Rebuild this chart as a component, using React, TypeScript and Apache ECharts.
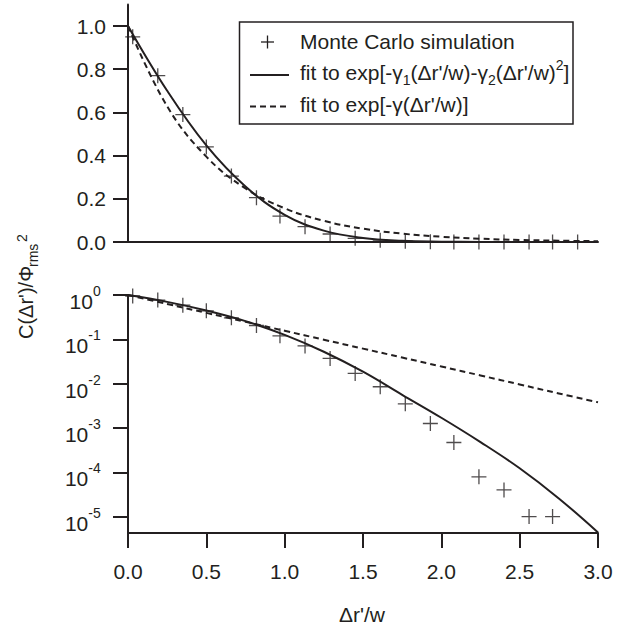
import React, { useEffect, useRef } from "react";
import * as echarts from "echarts";

// Monte Carlo simulation points
const mcX = [0.03, 0.19, 0.35, 0.5, 0.66, 0.82, 0.97, 1.13, 1.29, 1.45, 1.61, 1.77, 1.93, 2.08, 2.24, 2.4, 2.56, 2.71, 2.87];
const mcY = [0.95, 0.77, 0.59, 0.44, 0.305, 0.205, 0.12, 0.071, 0.037, 0.017, 0.0085, 0.0035, 0.00126, 0.00047, 0.000079, 0.00004, 0.00001, 0.00001, 0];

// fit curves
const fitX = [0, 0.25, 0.5, 0.75, 1.0, 1.25, 1.5, 1.75, 2.0, 2.25, 2.5, 2.75, 3.0];
const fitQuad = [1.0, 0.7, 0.447, 0.257, 0.126, 0.0525, 0.0186, 0.0056, 0.0017, 0.00048, 0.000123, 0.0000257, 0.0000044];
const fitExp = [1.0, 0.628, 0.395, 0.248, 0.156, 0.098, 0.0617, 0.0388, 0.0244, 0.0153, 0.0096, 0.006, 0.0038];

// tick labels
const xTicks = [0, 0.5, 1.0, 1.5, 2.0, 2.5, 3.0];
const linTicks = [0, 0.2, 0.4, 0.6, 0.8, 1.0];
const logTicks = [0, -1, -2, -3, -4, -5];

const ink = "#231f20";
const ff = "'Liberation Sans', Arial, Helvetica, sans-serif";
const crossSymbol = "path://M7.5 0 L7.5 15 M0 7.5 L15 7.5";

export default function App() {
  const ref = useRef<HTMLDivElement>(null);
  useEffect(() => {
    if (!ref.current) return;
    const chart = echarts.init(ref.current, null, { renderer: "svg" });

    const pairs = (xs: number[], ys: number[]) => xs.map((x, i) => [x, ys[i]]);
    const logPairs = (xs: number[], ys: number[]) =>
      xs.map((x, i) => [x, ys[i]]).filter((p) => p[1] > 0).map((p) => [p[0], Math.log10(p[1])]);

    const axisLine = { show: true, onZero: false, lineStyle: { color: ink, width: 2 } };
    const tickStyle = { color: ink, width: 2 };
    const vText = (text: string, x: number, y: number, size: number) => ({
      type: "text", x, y, rotation: Math.PI / 2,
      style: { text, fontSize: size, fontFamily: ff, fill: ink, align: "left", verticalAlign: "middle" },
    });

    const option: any = {
      animation: false,
      backgroundColor: "#fff",
      grid: [
        { left: 128, right: 27, top: 4.4, height: 237.6 },
        { left: 128, right: 27, top: 295, height: 238 },
      ],
      xAxis: [
        {
          type: "value", gridIndex: 0, min: 0, max: 3, interval: 0.5,
          axisLine, axisTick: { show: false }, axisLabel: { show: false }, splitLine: { show: false },
        },
        {
          type: "value", gridIndex: 1, min: 0, max: 3, interval: 0.5,
          axisLine,
          axisTick: { show: true, inside: false, length: 15, lineStyle: tickStyle, customValues: xTicks },
          axisLabel: {
            customValues: xTicks, margin: 28, fontSize: 21, color: ink, fontFamily: ff,
            formatter: (v: number) => v.toFixed(1),
          },
          splitLine: { show: false },
        },
      ],
      yAxis: [
        {
          type: "value", gridIndex: 0, min: 0, max: 1.1,
          axisLine,
          axisTick: { show: true, inside: false, length: 15, lineStyle: tickStyle, customValues: linTicks },
          axisLabel: {
            customValues: linTicks, margin: 22, fontSize: 21, color: ink, fontFamily: ff,
            formatter: (v: number) => v.toFixed(1),
          },
          splitLine: { show: false },
        },
        {
          type: "value", gridIndex: 1, min: -5.37, max: 0,
          axisLine,
          axisTick: { show: true, inside: false, length: 15, lineStyle: tickStyle, customValues: logTicks },
          axisLabel: {
            customValues: logTicks, margin: 27, color: ink, fontFamily: ff,
            formatter: (v: number) => `{b|10}{s|${Math.round(v)}}{h| }`,
            rich: {
              b: { fontSize: 21, lineHeight: 20, verticalAlign: "bottom", color: ink, fontFamily: ff },
              s: { fontSize: 14, verticalAlign: "top", padding: [6, 0, 0, 0], color: ink, fontFamily: ff },
              h: { fontSize: 1, lineHeight: 34, verticalAlign: "middle", color: ink, fontFamily: ff },
            },
          },
          splitLine: { show: false },
        },
      ],
      series: [
        {
          type: "line", xAxisIndex: 0, yAxisIndex: 0, data: pairs(fitX, fitQuad), smooth: 0.4,
          symbol: "none", lineStyle: { color: ink, width: 2 },
        },
        {
          type: "line", xAxisIndex: 0, yAxisIndex: 0, data: pairs(fitX, fitExp), smooth: 0.4,
          symbol: "none", lineStyle: { color: ink, width: 2, type: [6, 4] },
        },
        {
          type: "scatter", xAxisIndex: 0, yAxisIndex: 0, data: pairs(mcX, mcY),
          symbol: crossSymbol, symbolSize: 15,
          itemStyle: { color: "none", borderColor: ink, borderWidth: 1.3 },
        },
        {
          type: "line", xAxisIndex: 1, yAxisIndex: 1, data: logPairs(fitX, fitQuad), smooth: 0.4,
          symbol: "none", lineStyle: { color: ink, width: 2 },
        },
        {
          type: "line", xAxisIndex: 1, yAxisIndex: 1, data: logPairs(fitX, fitExp), smooth: 0.4,
          symbol: "none", lineStyle: { color: ink, width: 2, type: [6, 4] },
        },
        {
          type: "scatter", xAxisIndex: 1, yAxisIndex: 1, data: logPairs(mcX, mcY),
          symbol: crossSymbol, symbolSize: 15,
          itemStyle: { color: "none", borderColor: ink, borderWidth: 1.3 },
        },
      ],
      graphic: [
        {
          type: "rect", z: 100,
          shape: { x: 239.5, y: 22, width: 333.5, height: 102 },
          style: { fill: "#fff", stroke: ink, lineWidth: 1.5 },
        },
        { type: "line", z: 101, shape: { x1: 261, y1: 42, x2: 274, y2: 42 }, style: { stroke: ink, lineWidth: 1.3 } },
        { type: "line", z: 101, shape: { x1: 267.5, y1: 35.5, x2: 267.5, y2: 48.5 }, style: { stroke: ink, lineWidth: 1.3 } },
        { type: "line", z: 101, shape: { x1: 250, y1: 75, x2: 289, y2: 75 }, style: { stroke: ink, lineWidth: 2 } },
        { type: "line", z: 101, shape: { x1: 250, y1: 106.5, x2: 289, y2: 106.5 }, style: { stroke: ink, lineWidth: 2, lineDash: [6, 4] } },
        {
          type: "text", z: 101, x: 300, y: 41,
          style: { text: "Monte Carlo simulation", fontSize: 21, fontFamily: ff, fill: ink, align: "left", verticalAlign: "middle" },
        },
        {
          type: "text", z: 101, x: 300, y: 72,
          style: {
            text: "{n|fit to exp[-γ}{sb|1}{n|(Δr'/w)-γ}{sb|2}{n|(Δr'/w)}{sp|2}{n|]}",
            align: "left", verticalAlign: "middle", fill: ink, fontFamily: ff, fontSize: 21,
            rich: {
              n: { fontSize: 21, lineHeight: 34, verticalAlign: "middle", fill: ink, fontFamily: ff },
              sb: { fontSize: 14, verticalAlign: "bottom", padding: [0, 0, 2.5, 0], fill: ink, fontFamily: ff },
              sp: { fontSize: 14, verticalAlign: "top", padding: [3, 0, 0, 0], fill: ink, fontFamily: ff },
            },
          },
        },
        {
          type: "text", z: 101, x: 300, y: 104,
          style: { text: "fit to exp[-γ(Δr'/w)]", fontSize: 21, fontFamily: ff, fill: ink, align: "left", verticalAlign: "middle" },
        },
        vText("C(Δr')/Φ", 26, 339, 20),
        vText("rms", 33, 267, 14),
        vText("2", 22, 242, 14),
        {
          type: "text", x: 362, y: 614,
          style: { text: "Δr'/w", fontSize: 21, fontFamily: ff, fill: ink, align: "center", verticalAlign: "middle" },
        },
      ],
    };
    chart.setOption(option);
    return () => chart.dispose();
  }, []);
  return (
    <div
      ref={ref}
      style={{ position: "absolute", left: 0, top: 0, width: 625, height: 625, background: "#fff" }}
    />
  );
}
